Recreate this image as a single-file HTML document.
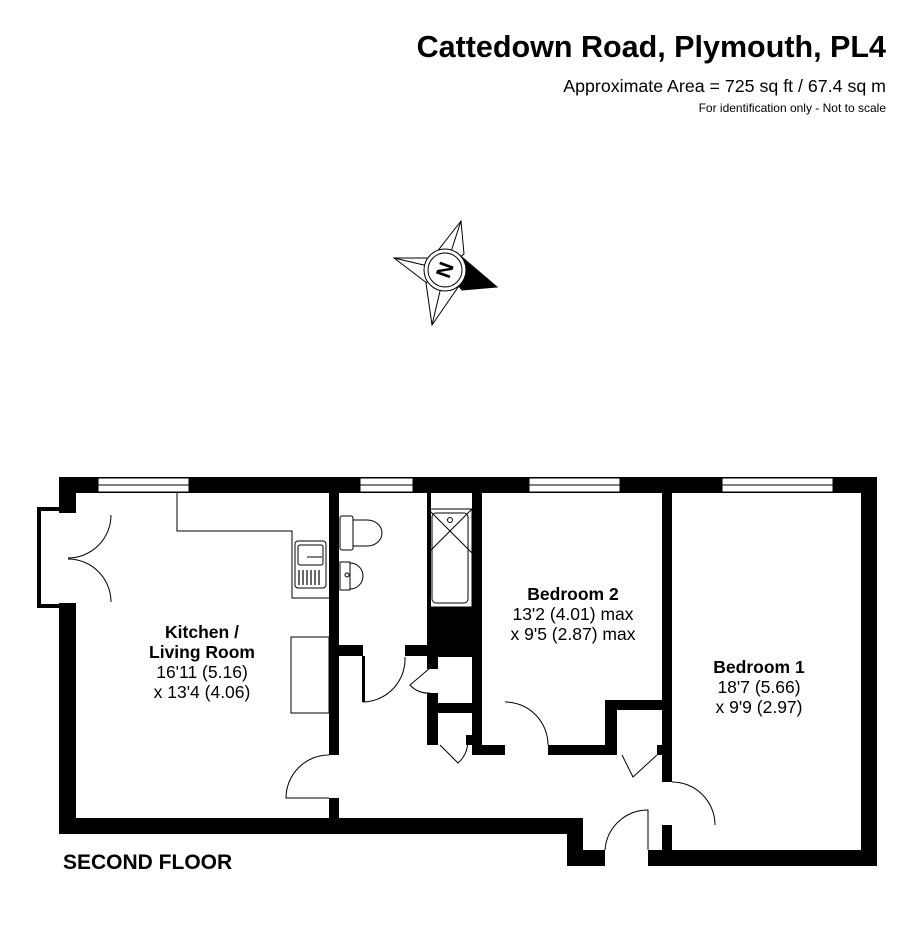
<!DOCTYPE html>
<html><head><meta charset="utf-8"><style>
html,body{margin:0;padding:0;background:#fff;}
svg{display:block;}
text{font-family:"Liberation Sans",Arial,sans-serif;fill:#000;}
</style></head><body>
<svg width="909" height="948" viewBox="0 0 909 948" xmlns="http://www.w3.org/2000/svg">
<rect width="909" height="948" fill="#fff"/>
<text x="886" y="57" font-size="30.5" font-weight="bold" text-anchor="end">Cattedown Road, Plymouth, PL4</text>
<text x="886" y="92" font-size="17.8" text-anchor="end">Approximate Area = 725 sq ft / 67.4 sq m</text>
<text x="886" y="112" font-size="12" text-anchor="end">For identification only - Not to scale</text>

<!-- compass -->
<g stroke="#000" stroke-width="1" fill="#fff">
<polygon points="461,221 429,262 445,270 464,254"/>
<polygon points="394,258 436,290 445,270 426,258"/>
<polygon points="432,325 463,280 445,270 426,283"/>
<polygon points="497,287 456,252 445,270 462,290" fill="#000"/>
<line x1="461" y1="221" x2="445" y2="270"/>
<line x1="394" y1="258" x2="445" y2="270"/>
<line x1="432" y1="325" x2="445" y2="270"/>
<circle cx="445" cy="270" r="21"/>
<circle cx="445" cy="270" r="17"/>
</g>
<text x="445" y="277" font-size="21" font-weight="bold" text-anchor="middle" transform="rotate(-70 445 270)">N</text>

<g fill="#000">
<rect x="59" y="477" width="818" height="16"/>
<rect x="59" y="477" width="17" height="36"/>
<rect x="59" y="603" width="17" height="231"/>
<rect x="59" y="818" width="524" height="16"/>
<rect x="567" y="818" width="16" height="48"/>
<rect x="567" y="850" width="38" height="16"/>
<rect x="648" y="850" width="229" height="16"/>
<rect x="861" y="477" width="16" height="389"/>
<rect x="329" y="493" width="10" height="262"/>
<rect x="329" y="798" width="10" height="20"/>
<rect x="339" y="645" width="24" height="11"/>
<rect x="405" y="645" width="25" height="11"/>
<rect x="427" y="607" width="53" height="50"/>
<rect x="427" y="493" width="4" height="114"/>
<rect x="472" y="493" width="10" height="262"/>
<rect x="427" y="657" width="11" height="12"/>
<rect x="427" y="693" width="11" height="52"/>
<rect x="438" y="703" width="35" height="10"/>
<rect x="466" y="735" width="8" height="10"/>
<rect x="472" y="745" width="33" height="10"/>
<rect x="548" y="745" width="69" height="10"/>
<rect x="605" y="700" width="12" height="55"/>
<rect x="605" y="700" width="67" height="10"/>
<rect x="657" y="745" width="15" height="10"/>
<rect x="662" y="477" width="10" height="305"/>
<rect x="662" y="825" width="10" height="41"/>
</g>
<g fill="#fff" stroke="#000" stroke-width="1">
<rect x="98" y="478" width="91" height="14"/><line x1="98" y1="485" x2="189" y2="485"/>
<rect x="360" y="478" width="53" height="14"/><line x1="360" y1="485" x2="413" y2="485"/>
<rect x="529" y="478" width="91" height="14"/><line x1="529" y1="485" x2="620" y2="485"/>
<rect x="722" y="478" width="111" height="14"/><line x1="722" y1="485" x2="833" y2="485"/>
</g>
<path d="M59,509 H39 V606 H59" fill="none" stroke="#000" stroke-width="4"/>
<g fill="none" stroke="#000" stroke-width="1">
<path d="M111,515 A43,43 0 0 1 68,558"/>
<path d="M68,559 A43,43 0 0 1 111,602"/>
<path d="M177,493 V531 H292 V598 H329"/>
<rect x="295" y="541" width="31" height="47" rx="3"/>
<rect x="298" y="545" width="25" height="20" rx="2"/>
<line x1="307" y1="557" x2="322" y2="557"/>
<g stroke-width="1.2"><line x1="299" y1="570" x2="299" y2="585"/><line x1="303" y1="570" x2="303" y2="585"/><line x1="307" y1="570" x2="307" y2="585"/><line x1="311" y1="570" x2="311" y2="585"/><line x1="315" y1="570" x2="315" y2="585"/><line x1="319" y1="570" x2="319" y2="585"/></g>
<rect x="291" y="637" width="38" height="76"/>
<rect x="340" y="516" width="13" height="34" rx="2"/>
<path d="M353,520 H367 A15,13 0 0 1 367,546 H353"/>
<rect x="340" y="562" width="10" height="28"/>
<path d="M350,563 A13,13 0 0 1 350,589"/>
<circle cx="347" cy="575" r="2"/>
<rect x="428" y="509" width="44" height="98"/>
<rect x="432" y="513" width="36" height="90" rx="4"/>
<line x1="428" y1="509" x2="472" y2="553"/><line x1="472" y1="509" x2="428" y2="553"/>
<circle cx="450" cy="520" r="2.5"/>
<path d="M329,755 A43,43 0 0 0 286,798 H329"/>
<path d="M405,657 A43,43 0 0 1 363,702"/>
<path d="M430,668 L410,685 A24,24 0 0 0 430,693"/>
<path d="M440,745 L458,763 A28,28 0 0 0 467,735"/>
<path d="M505,702 A43,43 0 0 1 548,745"/>
<path d="M622,755 L633,777 L657,755"/>
<path d="M672,782 A43,43 0 0 1 715,825"/>
<path d="M605,850 A43,43 0 0 1 648,810 V850"/>
</g>
<rect x="362" y="656" width="3" height="46" fill="#000"/>

<g font-size="17.5" text-anchor="middle">
<text x="202" y="638" font-weight="bold">Kitchen /</text>
<text x="202" y="658" font-weight="bold">Living Room</text>
<text x="202" y="678">16'11 (5.16)</text>
<text x="202" y="698">x 13'4 (4.06)</text>
<text x="573" y="600" font-weight="bold">Bedroom 2</text>
<text x="573" y="620">13'2 (4.01) max</text>
<text x="573" y="640">x 9'5 (2.87) max</text>
<text x="759" y="673" font-weight="bold">Bedroom 1</text>
<text x="759" y="693">18'7 (5.66)</text>
<text x="759" y="713">x 9'9 (2.97)</text>
</g>
<text x="63" y="869" font-size="21" font-weight="bold">SECOND FLOOR</text>
</svg>
</body></html>
